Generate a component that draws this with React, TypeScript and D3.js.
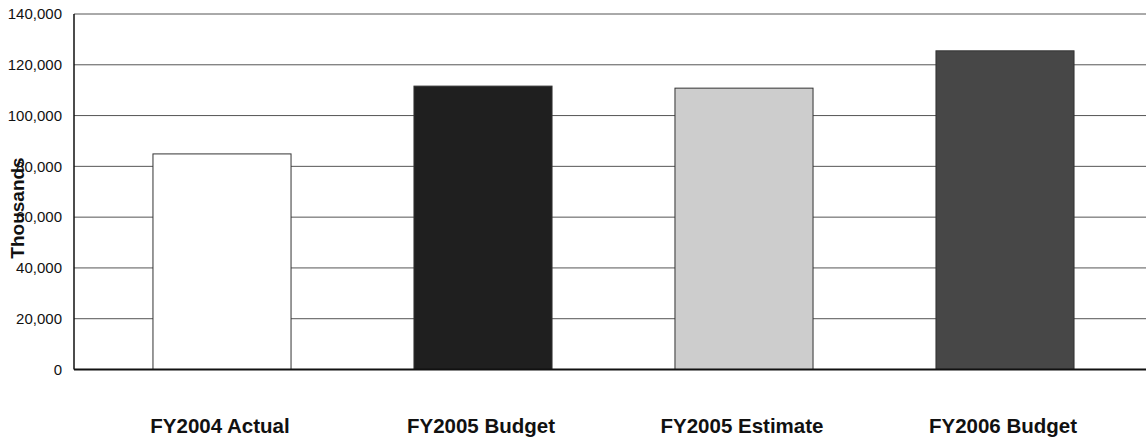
import React from "react";
import * as d3 from "d3";

const categories = ["FY2004 Actual", "FY2005 Budget", "FY2005 Estimate", "FY2006 Budget"];
const values = [84900, 111600, 110800, 125500];
const barColors = ["#ffffff", "#1f1f1f", "#cdcdcd", "#474747"];
const yTicks = [0, 20000, 40000, 60000, 80000, 100000, 120000, 140000];
const yTitle = "Thousands";

export default function App() {
  const W = 1146, H = 442;
  const axisX = 74;
  const y = d3.scaleLinear().domain([0, 140000]).range([369.5, 14]);
  const x = d3.scaleBand<string>().domain(categories).range([91.5, 1135.5]).paddingInner(0.471).paddingOuter(0.2355);
  const fmt = d3.format(",");
  const font = "Arial, 'Liberation Sans', sans-serif";
  return (
    <svg width={W} height={H} style={{ position: "absolute", left: 0, top: 0, background: "#fff" }}>
      {yTicks.map((t) => (
        <g key={t}>
          {t > 0 && <line x1={axisX} x2={W} y1={y(t)} y2={y(t)} stroke="#555" strokeWidth={1} />}
          <text x={62} y={y(t)} dy="0.35em" textAnchor="end" fontFamily={font} fontSize={15} fill="#111">
            {fmt(t)}
          </text>
        </g>
      ))}
      {categories.map((c, i) => (
        <rect key={c} x={x(c)!} y={y(values[i])} width={x.bandwidth()} height={y(0) - y(values[i])}
          fill={barColors[i]} stroke="#333" strokeWidth={1} />
      ))}
      <line x1={axisX} x2={axisX} y1={y(140000)} y2={y(0)} stroke="#111" strokeWidth={1.5} />
      <line x1={axisX} x2={W} y1={y(0)} y2={y(0)} stroke="#111" strokeWidth={2} />
      {categories.map((c) => (
        <text key={c} x={x(c)! + x.bandwidth() / 2 - 2} y={433} textAnchor="middle" fontFamily={font}
          fontWeight="bold" fontSize={20.5} fill="#111">
          {c}
        </text>
      ))}
      <text transform={`translate(24,${208}) rotate(-90)`} textAnchor="middle" fontFamily={font}
        fontWeight="bold" fontSize={19} fill="#111">
        {yTitle}
      </text>
    </svg>
  );
}
